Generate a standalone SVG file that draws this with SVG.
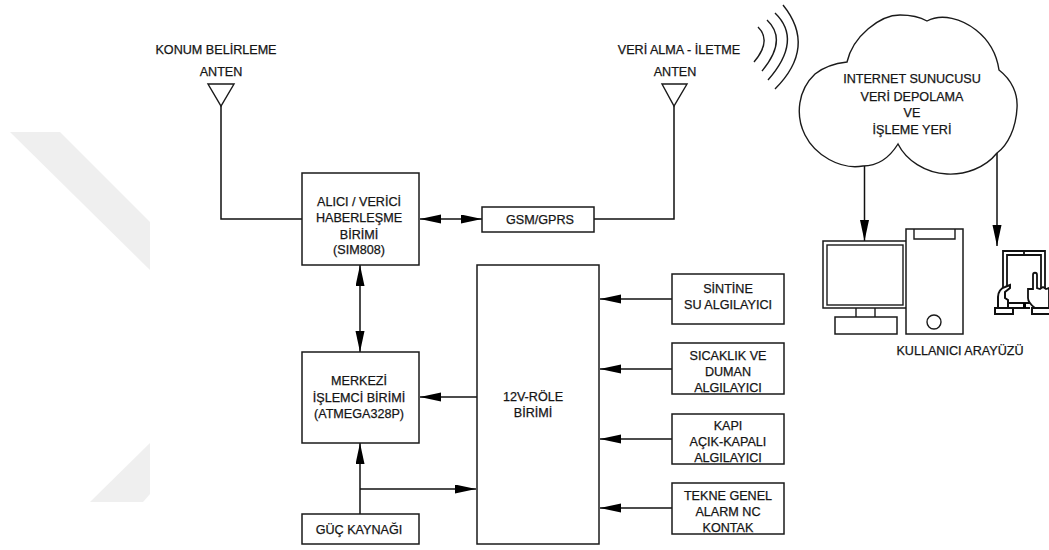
<svg xmlns="http://www.w3.org/2000/svg" width="1049" height="550" viewBox="0 0 1049 550">
<style>
text{font-family:"Liberation Sans",Arial,sans-serif;font-size:12.6px;fill:#151515;stroke:#151515;stroke-width:.25;text-anchor:middle}
.b{fill:#fff;stroke:#1a1a1a;stroke-width:1.5}
.l{fill:none;stroke:#1a1a1a;stroke-width:1.4}
.c{fill:none;stroke:#111;stroke-width:1.5}
.t{fill:#fff;stroke:#111;stroke-width:2}
.wm{fill:#efefef;stroke:none}
</style>
<defs>
<marker id="ah" markerUnits="userSpaceOnUse" markerWidth="22" markerHeight="10" refX="21" refY="4.5" orient="auto-start-reverse"><path d="M0,0L21,4.500L0,9Z" fill="#000"/></marker>
</defs>
<rect width="1049" height="550" fill="#fff"/>
<g id="watermark">
<polygon class="wm" points="10,132 60,132 150,222 150,270"/>
<polygon class="wm" points="150,443 150,494 143,502 90,502"/>
</g>
<g id="connectors">
<path class="c" d="M221,106V219H302"/>
<path class="c" d="M594,219H674V106"/>
<path class="c" d="M420,219H482" marker-start="url(#ah)" marker-end="url(#ah)"/>
<path class="c" d="M360,265V352" marker-start="url(#ah)" marker-end="url(#ah)"/>
<path class="c" d="M477,397H420" marker-end="url(#ah)"/>
<path class="c" d="M360,514V443" marker-end="url(#ah)"/>
<path class="c" d="M360,489H476" marker-end="url(#ah)"/>
<path class="c" d="M672,299H600" marker-end="url(#ah)"/>
<path class="c" d="M672,369H600" marker-end="url(#ah)"/>
<path class="c" d="M672,439H600" marker-end="url(#ah)"/>
<path class="c" d="M672,508H600" marker-end="url(#ah)"/>
<path class="c" d="M864.500,166V241" marker-end="url(#ah)"/>
<path class="c" d="M997,153V246" marker-end="url(#ah)"/>
</g>
<g id="antenna-konum">
<path class="l" d="M208,84H234L221,106Z"/>
<text x="216" y="54">KONUM BELİRLEME</text>
<text x="221" y="76">ANTEN</text>
</g>
<g id="antenna-veri">
<path class="l" d="M662,84H687L674,106Z"/>
<text x="679" y="54">VERİ ALMA - İLETME</text>
<text x="675" y="76">ANTEN</text>
</g>
<g id="waves">
<path class="l" d="M758,27Q772,41 754,62"/>
<path class="l" d="M767,20Q788,40 762,71"/>
<path class="l" d="M775,13Q803,40 768,80"/>
<path class="l" d="M783,5Q817,47 775,89"/>
</g>
<g id="cloud">
<path class="l" d="M847,62C853,36 880,15 900,15C910,15 920,17 927,21C942,13 962,19 976,30C990,41 997,56 999,70C1012,80 1018,94 1017,108C1016,128 1008,145 997,153C985,168 965,175 947,174C925,173 906,160 898,144C888,160 875,166 863,166C840,170 815,155 805,135C795,115 798,90 815,74C825,66 838,63 847,62Z"/>
<text x="912" y="83">INTERNET SUNUCUSU</text>
<text x="912" y="101">VERİ DEPOLAMA</text>
<text x="912" y="117">VE</text>
<text x="912" y="134">İŞLEME YERİ</text>
</g>
<g id="computer">
<rect class="b" x="823" y="241" width="84" height="67"/>
<rect class="l" x="827" y="245" width="76" height="60"/>
<path class="l" d="M856,308V317M875,308V317"/>
<rect class="b" x="835" y="317" width="62" height="17"/>
<rect class="b" x="906" y="229" width="57" height="105"/>
<path class="l" d="M914,229V239H955V229"/>
<circle class="l" cx="934" cy="322" r="7"/>
<text x="960" y="355">KULLANICI ARAYÜZÜ</text>
</g>
<g id="tablet">
<path d="M1003,290V251H1045V290M1007,287V255H1041V288M1024,251V255" fill="none" stroke="#111" stroke-width="1.800"/>
<path class="t" d="M998,308V297C998,292 1001,288 1005,287L1010,285V288L1005,292V298L1008,300V308M1008,303H1030M1008,308H1030"/>
<path d="M1023,303h3v5h-3z" fill="#000"/>
<path class="t" d="M1035,308C1031,305 1028,302 1028,298V289H1033V275C1033,272 1037,272 1037,275V288L1040,289L1043,287L1046,289L1049,288V308Z" style="stroke-width:1.800"/>
<rect class="t" x="995" y="308" width="18" height="6"/>
<path class="t" d="M1049,308H1032V314H1049"/>
</g>
<g id="alici"><rect class="b" x="302" y="173" width="117" height="92"/>
<text x="359" y="206">ALICI / VERİCİ</text><text x="359" y="222">HABERLEŞME</text><text x="359" y="239">BİRİMİ</text><text x="359" y="254">(SIM808)</text></g>
<g id="gsm"><rect class="b" x="482" y="207" width="112" height="25"/><text x="540" y="224">GSM/GPRS</text></g>
<g id="merkezi"><rect class="b" x="302" y="352" width="117" height="91"/>
<text x="359" y="385">MERKEZİ</text><text x="359" y="402">İŞLEMCİ BİRİMİ</text><text x="359" y="418">(ATMEGA328P)</text></g>
<g id="guc"><rect class="b" x="302" y="514" width="117" height="30"/><text x="359" y="534">GÜÇ KAYNAĞI</text></g>
<g id="role"><rect class="b" x="477" y="265" width="122" height="279"/>
<text x="533" y="401">12V-RÖLE</text><text x="533" y="417">BİRİMİ</text></g>
<g id="sintine"><rect class="b" x="672" y="274" width="112" height="50"/>
<text x="728" y="293">SİNTİNE</text><text x="728" y="309">SU ALGILAYICI</text></g>
<g id="sicaklik"><rect class="b" x="672" y="343" width="112" height="51"/>
<text x="728" y="360">SICAKLIK VE</text><text x="728" y="376">DUMAN</text><text x="728" y="392">ALGILAYICI</text></g>
<g id="kapi"><rect class="b" x="672" y="414" width="112" height="50"/>
<text x="728" y="430">KAPI</text><text x="728" y="446">AÇIK-KAPALI</text><text x="728" y="462">ALGILAYICI</text></g>
<g id="tekne"><rect class="b" x="672" y="483" width="112" height="51"/>
<text x="728" y="500">TEKNE GENEL</text><text x="728" y="516">ALARM NC</text><text x="728" y="532">KONTAK</text></g>
</svg>
